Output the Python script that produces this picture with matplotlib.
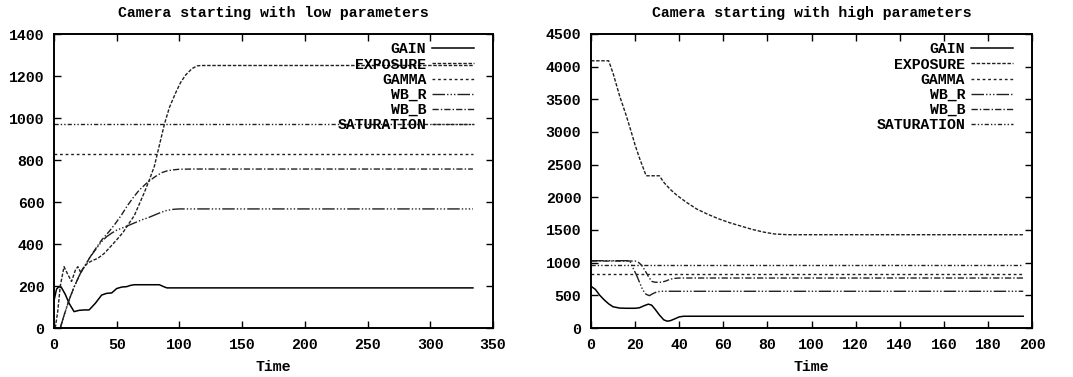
import matplotlib
matplotlib.use("Agg")
import matplotlib.pyplot as plt
from matplotlib.ticker import MultipleLocator

# ---------------- data: low start ----------------
low_gain_t = [0, 2, 4, 6, 9, 12, 16, 20, 24, 28, 33, 38, 42, 46, 50, 54, 58, 61, 64, 84, 87, 90, 334]
low_gain_v = [130, 185, 197, 192, 160, 118, 78, 84, 86, 86, 118, 157, 165, 167, 188, 195, 197, 203, 206, 206, 198, 191, 191]

low_exp_t = [1, 3, 5, 8, 11, 14, 17, 19, 21, 24, 27, 31, 35, 40, 45, 50, 55, 60, 64, 68, 72, 76, 80, 84, 88, 92, 97, 101, 105, 110, 114, 117, 334]
low_exp_v = [0, 80, 200, 292, 255, 222, 275, 292, 268, 290, 310, 322, 332, 355, 387, 420, 455, 500, 535, 590, 645, 705, 770, 870, 970, 1050, 1120, 1170, 1205, 1235, 1248, 1250, 1250]

low_gamma_t = [0, 334]
low_gamma_v = [828, 828]

low_wbr_t = [5, 8, 12, 16, 21, 25, 29, 34, 38, 42, 46, 50, 56, 60, 64, 70, 75, 79, 85, 90, 95, 100, 334]
low_wbr_v = [0, 60, 133, 195, 260, 300, 340, 380, 412, 435, 452, 466, 480, 490, 500, 515, 525, 535, 550, 560, 565, 567, 567]

low_wbb_t = [5, 8, 12, 16, 21, 25, 29, 34, 38, 44, 49, 54, 58, 63, 68, 73, 77, 81, 86, 90, 95, 100, 110, 334]
low_wbb_v = [0, 60, 133, 195, 260, 300, 340, 385, 419, 460, 498, 540, 578, 620, 657, 685, 705, 722, 740, 748, 753, 756, 757, 757]

low_sat_t = [0, 334]
low_sat_v = [970, 970]

# ---------------- data: high start ----------------
high_gain_t = [0, 2, 4, 6, 8, 10, 13, 16, 20, 22, 24, 26, 27.5, 29, 31, 33, 34.5, 36, 38, 40, 42, 196]
high_gain_v = [640, 590, 500, 430, 370, 325, 305, 302, 302, 310, 340, 365, 350, 290, 200, 125, 105, 112, 140, 170, 180, 180]

high_exp_t = [0, 8, 10, 13, 16, 18, 20, 22, 24, 25, 31, 33, 36, 39, 43, 48, 53, 58, 63, 68, 73, 78, 83, 88, 90, 196]
high_exp_v = [4090, 4090, 3900, 3550, 3250, 3030, 2800, 2600, 2420, 2330, 2330, 2230, 2120, 2030, 1930, 1820, 1740, 1670, 1610, 1560, 1510, 1470, 1440, 1430, 1428, 1428]

high_gamma_t = [0, 196]
high_gamma_v = [826, 826]

high_wbr_t = [0, 17.5, 18, 19, 20.5, 22, 23.5, 25, 26.5, 28, 30, 32, 196]
high_wbr_v = [1030, 1030, 1000, 920, 820, 700, 580, 515, 495, 525, 555, 562, 562]

high_wbb_t = [0, 20, 21.5, 23, 24.5, 26, 27.5, 29, 32, 34, 36, 38, 40, 196]
high_wbb_v = [1025, 1025, 1005, 960, 880, 790, 715, 700, 700, 720, 748, 760, 765, 765]

high_sat_t = [0, 196]
high_sat_v = [970, 970]

labels = ["GAIN", "EXPOSURE", "GAMMA", "WB_R", "WB_B", "SATURATION"]
titles = ["Camera starting with low parameters", "Camera starting with high parameters"]

styles = [
    dict(ls="-", lw=1.1, color="black"),
    dict(ls=(0, (2.5, 1.2)), lw=1.0, color="#202020"),
    dict(ls=(0, (2.0, 2.0)), lw=1.0, color="#202020"),
    dict(ls=(0, (9, 1.5, 1, 1.5, 1, 1.5, 1, 1.5)), lw=1.0, color="#202020"),
    dict(ls=(0, (4.5, 1.5, 1, 1.5)), lw=1.0, color="#202020"),
    dict(ls=(0, (3, 1.5, 1, 1.5, 1, 1.5)), lw=1.0, color="#202020"),
]

FONT = "Liberation Mono"
FS = 10.7

fig = plt.figure(figsize=(10.73, 3.77), dpi=100)
ax1 = fig.add_axes([54 / 1073, 1 - 328 / 377, (493 - 54) / 1073, (328 - 34) / 377])
ax2 = fig.add_axes([591 / 1073, 1 - 328 / 377, (1032 - 591) / 1073, (328 - 34) / 377])

low = [(low_gain_t, low_gain_v), (low_exp_t, low_exp_v), (low_gamma_t, low_gamma_v),
       (low_wbr_t, low_wbr_v), (low_wbb_t, low_wbb_v), (low_sat_t, low_sat_v)]
high = [(high_gain_t, high_gain_v), (high_exp_t, high_exp_v), (high_gamma_t, high_gamma_v),
        (high_wbr_t, high_wbr_v), (high_wbb_t, high_wbb_v), (high_sat_t, high_sat_v)]

configs = [
    (ax1, low, (0, 350), 50, (0, 1400), 200, titles[0]),
    (ax2, high, (0, 200), 20, (0, 4500), 500, titles[1]),
]

for ax, series, xl, xs, yl, ys, title in configs:
    for (t, v), lab, st in zip(series, labels, styles):
        ax.plot(t, v, label=lab, **st)
    ax.set_xlim(*xl)
    ax.set_ylim(*yl)
    ax.xaxis.set_major_locator(MultipleLocator(xs))
    ax.yaxis.set_major_locator(MultipleLocator(ys))
    ax.tick_params(direction="in", top=True, right=True, length=5, width=1.0,
                   labelsize=FS, pad=7)
    for lbl in ax.get_xticklabels() + ax.get_yticklabels():
        lbl.set_fontfamily(FONT)
        lbl.set_fontweight("bold")
    for sp in ax.spines.values():
        sp.set_linewidth(1.4)
    ax.set_title(title, fontfamily=FONT, fontweight="bold", fontsize=FS, pad=12)
    ax.set_xlabel("Time", fontfamily=FONT, fontweight="bold", fontsize=FS, labelpad=6)
    leg = ax.legend(loc="upper right", bbox_to_anchor=(0.98, 1.007), frameon=False,
                    markerfirst=False, handlelength=2.8, handletextpad=0.4,
                    labelspacing=0.08, borderaxespad=0.3,
                    prop=dict(family=FONT, weight="bold", size=FS))

fig.savefig("out.png", dpi=100)
